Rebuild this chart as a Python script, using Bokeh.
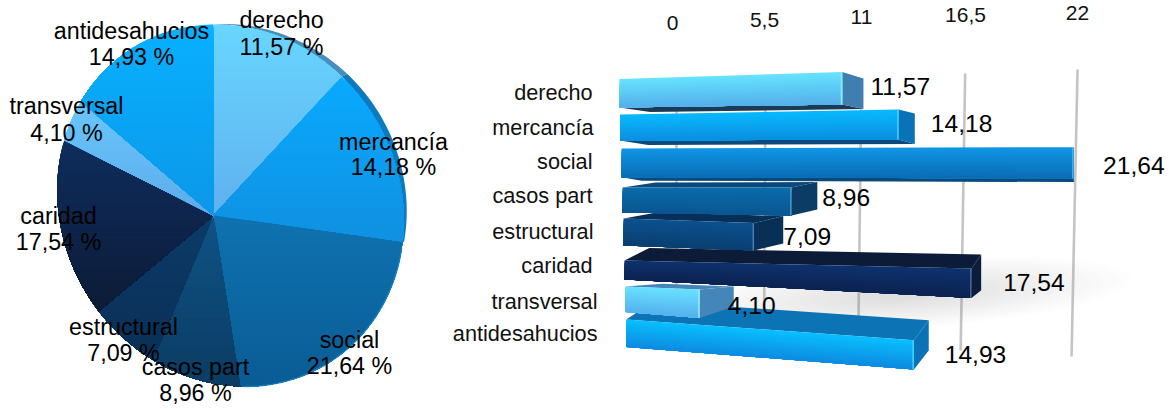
import numpy as np
from bokeh.core.properties import value
from bokeh.embed import file_html
from bokeh.models import ColumnDataSource
from bokeh.plotting import figure
from bokeh.resources import INLINE

# Values
categories = ["derecho", "mercancía", "social", "casos part", "estructural", "caridad", "transversal", "antidesahucios"]
shares = [11.57, 14.18, 21.64, 8.96, 7.09, 17.54, 4.10, 14.93]
tick_values = [0, 5.5, 11, 16.5, 22]
tick_labels = ["0", "5,5", "11", "16,5", "22"]

FONT = value("Liberation Sans")
W, H = 1176, 409

p = figure(width=W, height=H, x_range=(0, W), y_range=(H, 0), output_backend="svg",
           toolbar_location=None, min_border=0, outline_line_color=None)
p.axis.visible = False
p.grid.visible = False
p.background_fill_color = "white"
p.border_fill_color = "white"


def rgb(c):
    return np.array([int(c[i:i + 2], 16) for i in (1, 3, 5)], float)


def mix(a, b, t):
    c = rgb(a) * (1 - t) + rgb(b) * t
    return "#%02x%02x%02x" % tuple(int(round(v)) for v in c)


def clip_below(px, py, limit):
    """Keep the part of a convex polygon lying below the line y = limit."""
    pts = list(zip(px, py))
    out = []
    for i in range(len(pts)):
        a, b = pts[i], pts[(i + 1) % len(pts)]
        ina, inb = a[1] >= limit, b[1] >= limit
        if ina:
            out.append(a)
        if ina != inb:
            t = (limit - a[1]) / (b[1] - a[1])
            out.append((a[0] + t * (b[0] - a[0]), limit))
    return out


def shaded(px, py, top, bottom, xs, ys, cols, step=2.5):
    """Append a convex polygon as overlapping layers, each painted from its level down."""
    lo, hi = min(py), max(py)
    n = max(1, int(np.ceil((hi - lo) / step)))
    edges = np.linspace(lo, hi, n + 1)
    for i in range(n):
        pts = clip_below(px, py, edges[i])
        if len(pts) >= 3:
            xs.append([q[0] for q in pts])
            ys.append([q[1] for q in pts])
            cols.append(mix(top, bottom, (i + .5) / n))


def draw(xs, ys, cols):
    src = ColumnDataSource(dict(xs=xs, ys=ys, c=cols))
    p.patches("xs", "ys", source=src, fill_color="c", line_color=None)


# ---- pie: a disc tilted in perspective, apex off its centre ----
APEX_X, APEX_Y = 213.0, 215.0
SX, SY, GX, GY, SHEAR = 171.3, 178.8, 0.098, 0.064, 16.0


def disc(theta):
    sx, cy = np.sin(theta), np.cos(theta)
    w = 1 - GX * sx - GY * cy
    return APEX_X + SX * sx / w, APEX_Y - (SY * cy - SHEAR * sx) / w


pie_top = ["#68d6ff", "#09aaff", "#0f72b0", "#0f5384", "#0c3b68", "#0e2d5e", "#69c6fc", "#08b1ff"]
pie_bot = ["#5fb0ee", "#1090e0", "#0a5c94", "#0b3c64", "#0a2f56", "#0d1b36", "#5cacea", "#0c97e8"]
rim_col = {0: "#4a8cba", 1: "#0c7abc"}

cum = np.concatenate([[0], np.cumsum(shares)]) / sum(shares) * 2 * np.pi

# rim showing on the upper right of the disc
rim_end = cum[2] + 0.09
rx, ry, rc = [], [], []
for i in (0, 1):
    th = np.linspace(cum[i], cum[i + 1], 50)
    x, y = disc(th)
    taper = np.clip(np.sin(np.clip(th, 0, rim_end) / rim_end * np.pi), 0, 1) ** 0.7
    ox, oy = x + 5.5 * taper, y - 3.0 * taper
    rx.append(list(x) + list(ox[::-1]))
    ry.append(list(y) + list(oy[::-1]))
    rc.append(rim_col[i])
draw(rx, ry, rc)

# the slices themselves
sx, sy, sc = [], [], []
for i in range(len(shares)):
    th = np.linspace(cum[i], cum[i + 1], 60)
    x, y = disc(th)
    shaded([APEX_X] + list(x), [APEX_Y] + list(y), pie_top[i], pie_bot[i], sx, sy, sc)
draw(sx, sy, sc)

# thin bevel highlight around the disc edge
th = np.linspace(cum[1] * 0.42, cum[1] + 0.02, 50)
x, y = disc(th)
p.line(x, y, line_color="#45dcff", line_width=1.0, line_alpha=0.8)
th = np.linspace(cum[2] + 0.03, cum[3] - 0.02, 50)
x, y = disc(th)
p.line(x, y, line_color="#1a86c8", line_width=1.4, line_alpha=0.8)

# ---- bars: perspective value scale ----
BAR_A, BAR_B = 17.65, 0.00717
GRID_A, GRID_B = 15.61, 0.00653
GRID_X0 = 676.0
VANISH_X = 1078.0
DEPTH = 0.09

# foreshortening of the rows that lean away from the viewer
row_scale = [1, 1, 1, 1, 0.99, 0.98, 1, 0.975]


def bar_px(v, i):
    return row_scale[i] * BAR_A * v / (1 - BAR_B * v)


def grid_px(v):
    return GRID_X0 + GRID_A * v / (1 - GRID_B * v)


# gridlines
grid_top = [82, 78, 78, 73, 69]
grid_bot = [315, 318, 322, 350, 356]
for v, t, b in zip(tick_values, grid_top, grid_bot):
    gx = grid_px(v)
    p.line([gx, gx - 6.0 * v / 22], [t, b], line_color="#c4c4c4", line_width=2.6)

# tick labels
tick_y = [22, 19, 16, 14, 12.5]
tick_x = [672, 764, 861, 965, 1077]
p.text(x=tick_x, y=tick_y, text=tick_labels, text_font=FONT, text_font_size="21px",
       text_color="#111111", text_align="center", text_baseline="middle")

# row geometry: left edge, face top and bottom at the left, edge slopes, depth offsets
left = [619, 619.5, 621, 622, 623, 624, 624.6, 625.7]
y_tl = [78.6, 114, 148, 187, 218, 260, 286, 319]
y_bl = [107, 140, 176.7, 212, 245, 279, 311.6, 346.5]
slope_t = [-.0324, -.018, -.0029, 0, .035, .023, .04, .072]
slope_b = [-.013, -.0036, .003, .018, .038, .053, .08, .078]
d_top = [6.7, 4, 0, -5.5, -7, -14, -3, -20]
d_bot = [4.5, 4.5, 3.5, -6, -7, -7.6, -11.6, -19]
face_top = ["#66e4ff", "#08baff", "#1096e6", "#0a6cac", "#0b5190", "#0e326e", "#68e2ff", "#08c0ff"]
face_bot = ["#55aeea", "#0b8ee0", "#0a6cb4", "#0a5690", "#0a3f70", "#0c2250", "#55b0ee", "#0d8ae0"]
side_col = ["#3f7fb0", "#0a72b6", "#0a6cb4", "#0b3c66", "#083056", "#0b1c3c", "#4486ba", "#0a72b6"]
topf_col = ["#3f7fb0", "#0a72b6", "#0a6cb4", "#0a4a7a", "#082f58", "#0c1b38", "#4486ba", "#0c74b5"]
botf_col = ["#1a3a55", "#0b4a7a", "#0a4a7a", "#0a4a7a", "#082f58", "#0c1b38", "#2a5a80", "#0c74b5"]

# soft shadow falling from the longest dark bar
for k in range(16):
    g = 1 - k / 16
    p.ellipse(x=905, y=294, width=420 * g + 30, height=62 * g + 6, angle=0.07,
              fill_color="#909090", fill_alpha=0.018, line_color=None)

FACE_STRIPS = 14
bx, by, bc = [], [], []
for i in reversed(range(len(shares))):
    L = left[i]
    xf = L + bar_px(shares[i], i)
    xb = xf + DEPTH * (VANISH_X - xf)
    ytr = y_tl[i] + slope_t[i] * (xf - L)
    ybr = y_bl[i] + slope_b[i] * (xf - L)
    inset = 20 + (xb - xf) * 0.5
    if d_top[i] < 0:
        bx.append([L, L + inset, xb, xf])
        by.append([y_tl[i], y_tl[i] + d_top[i] * 0.9, ytr + d_top[i], ytr])
        bc.append(topf_col[i])
    if d_bot[i] > 0:
        bx.append([L, L + inset, xb, xf])
        by.append([y_bl[i], y_bl[i] + d_bot[i], ybr + d_bot[i], ybr])
        bc.append(botf_col[i])
    bx.append([xf, xb, xb, xf])
    by.append([ytr, ytr + d_top[i], ybr + d_bot[i], ybr])
    bc.append(side_col[i])
    # front face: layers follow the slant of the bar, each covering down to its lower edge
    for j in range(FACE_STRIPS):
        a = j / FACE_STRIPS
        bx.append([L, xf, xf, L])
        by.append([y_tl[i] + (y_bl[i] - y_tl[i]) * a, ytr + (ybr - ytr) * a, ybr, y_bl[i]])
        bc.append(mix(face_top[i], face_bot[i], (j + .5) / FACE_STRIPS))
    bx.append([xf - 1.5, xf, xf, xf - 1.5])
    by.append([ytr, ytr, ybr, ybr])
    bc.append(mix(face_top[i], "#ffffff", 0.25))
draw(bx, by, bc)

# ---- texts ----
cat_right = [592, 593, 592, 592, 593, 592, 597, 597]
cat_y = [92, 127, 161, 195, 231, 265, 301, 333]
p.text(x=cat_right, y=cat_y, text=categories, text_font=FONT, text_font_size="21.7px",
       text_color="#111111", text_align="right", text_baseline="middle")

val_dx = [7, 16, 29, 5, 0, 22, -6, 16]
val_y = [86, 123, 165, 197, 236, 282, 305, 354]
val_x = []
for i, v in enumerate(shares):
    xf = left[i] + bar_px(v, i)
    val_x.append(xf + DEPTH * (VANISH_X - xf) + val_dx[i])
val_txt = [("%.2f" % v).replace(".", ",") for v in shares]
p.text(x=val_x, y=val_y, text=val_txt, text_font=FONT, text_font_size="24.6px",
       text_color="#000000", text_align="left", text_baseline="middle")

lab_x = [281, 393, 349, 195, 123, 58, 66, 131]
lab_y1 = [19, 141, 339, 366, 326, 215, 105, 30]
lab_y2 = [46, 166, 365, 392, 352, 241, 132, 56]
p.text(x=lab_x, y=lab_y1, text=categories, text_font=FONT, text_font_size="23.3px",
       text_color="#000000", text_align="center", text_baseline="middle")
p.text(x=lab_x, y=lab_y2, text=[t + " %" for t in val_txt], text_font=FONT, text_font_size="23.3px",
       text_color="#000000", text_align="center", text_baseline="middle")

open("out.html", "w").write(file_html(p, INLINE))
